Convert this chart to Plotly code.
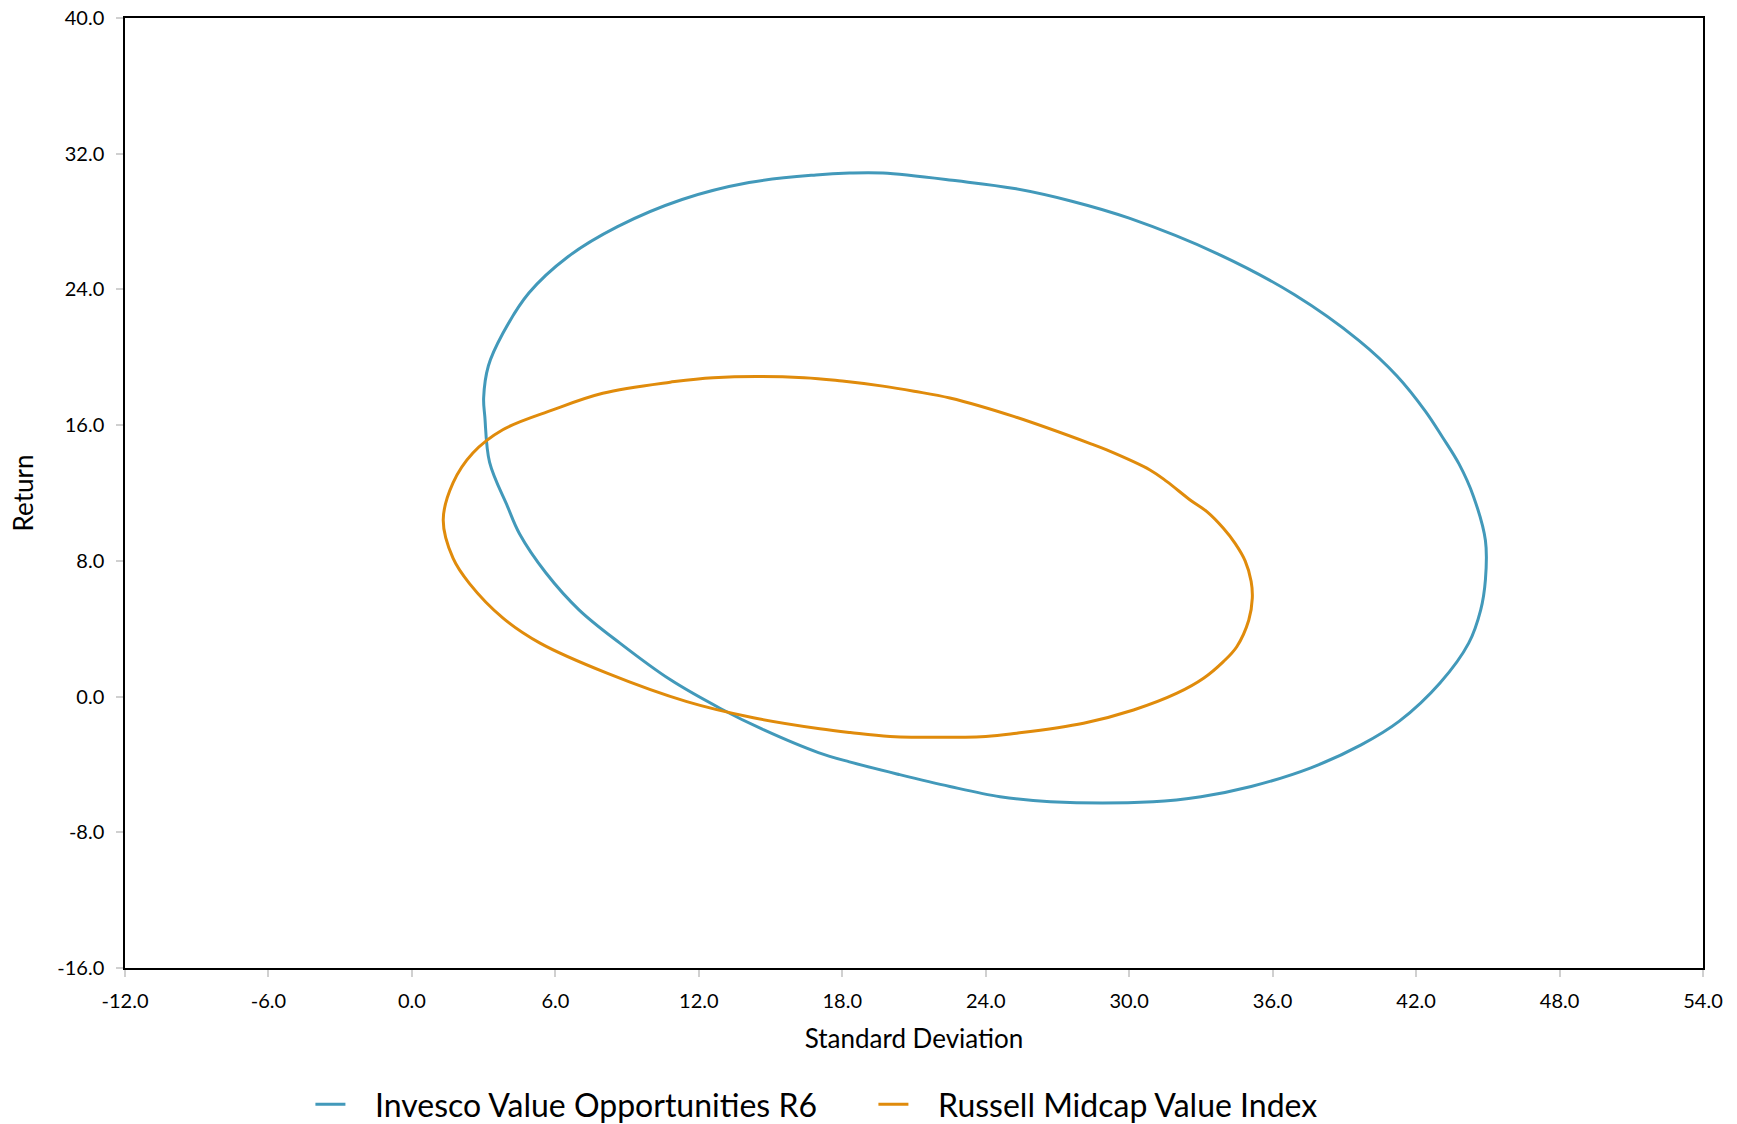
import plotly.graph_objects as go

# Invesco Value Opportunities R6 (standard deviation, return) contour points
fund_sd = [3.0, 3.2, 3.8, 4.9, 6.5, 8.6, 11.3, 14.1, 16.9, 18.3, 19.7, 22.8, 25.2,
           27.6, 30.0, 33.7, 36.9, 39.6, 41.2, 42.4, 43.1, 43.8, 44.4, 44.9, 44.9, 44.7,
           44.2, 43.0, 41.3, 39.7, 37.6, 35.1, 33.0, 31.0, 26.7, 24.6, 22.5, 20.4, 18.3,
           17.0, 14.7, 12.9, 10.8, 8.7, 7.0, 5.6, 4.5, 4.0, 3.25, 3.05, 3.0]
fund_ret = [17.6, 19.5, 21.4, 23.8, 25.9, 27.7, 29.3, 30.3, 30.75, 30.86, 30.86, 30.4, 29.95,
            29.2, 28.2, 26.1, 23.7, 21.0, 18.9, 16.8, 15.3, 13.7, 11.8, 9.2, 6.9, 5.1,
            3.15, 0.8, -1.45, -2.85, -4.2, -5.3, -5.9, -6.2, -6.2, -5.9, -5.3, -4.6, -3.85,
            -3.3, -1.95, -0.7, 1.0, 3.15, 5.1, 7.3, 9.6, 11.2, 13.8, 16.5, 17.6]

# Russell Midcap Value Index contour points
idx_sd = [12.6, 16.4, 18.0, 19.7, 21.0, 22.5, 25.2, 28.4, 29.06, 30.87, 31.58, 32.55, 33.25,
          33.94, 34.43, 34.85, 35.1, 35.15, 35.0, 34.5, 33.94, 33.11, 32.0, 30.18, 28.09,
          25.3, 24.0, 20.0, 18.33, 17.06, 14.28, 11.5, 8.16, 5.36, 3.8, 2.41, 1.72, 1.31,
          1.72, 2.55, 3.8, 5.89, 7.98, 10.8, 12.6]
idx_ret = [18.8, 18.8, 18.6, 18.3, 18.0, 17.6, 16.5, 14.9, 14.54, 13.36, 12.67, 11.59, 10.9,
           9.92, 9.03, 8.0, 6.8, 5.8, 4.5, 2.94, 2.06, 1.08, 0.2, -0.79, -1.57,
           -2.16, -2.35, -2.35, -2.12, -1.9, -1.25, -0.3, 1.38, 3.15, 4.64, 6.66, 8.16, 10.41,
           12.6, 14.36, 15.73, 16.9, 17.88, 18.53, 18.8]

series_names = ["Invesco Value Opportunities R6", "Russell Midcap Value Index"]
series_colors = ["#4299ba", "#e08b0b"]

x_ticks = [-12, -6, 0, 6, 12, 18, 24, 30, 36, 42, 48, 54]
x_tick_labels = ["-12.0", "-6.0", "0.0", "6.0", "12.0", "18.0", "24.0", "30.0",
                 "36.0", "42.0", "48.0", "54.0"]
y_ticks = [-16, -8, 0, 8, 16, 24, 32, 40]
y_tick_labels = ["-16.0", "-8.0", "0.0", "8.0", "16.0", "24.0", "32.0", "40.0"]

FONT = "Lato, 'Open Sans', sans-serif"
GAP = "\u00a0\u00a0\u00a0"  # visual gap between legend swatch and label

fig = go.Figure()
for xs, ys, name, col in [(fund_sd, fund_ret, series_names[0], series_colors[0]),
                          (idx_sd, idx_ret, series_names[1], series_colors[1])]:
    fig.add_trace(go.Scatter(x=xs, y=ys, mode="lines", name=GAP + name,
                             line=dict(color=col, width=3, shape="spline", smoothing=1.0)))

axis_common = dict(showgrid=False, zeroline=False, showline=True, linecolor="black",
                   linewidth=1.5, mirror=True, ticks="outside", tickcolor="#d0d0d0",
                   ticklen=7, tickwidth=1.5, ticklabeloverflow="allow",
                   tickfont=dict(family=FONT, size=20, color="black"))

fig.update_layout(
    width=1737, height=1124,
    paper_bgcolor="white", plot_bgcolor="white",
    margin=dict(l=125, r=34, t=18, b=156, autoexpand=False),
    font=dict(family=FONT, color="black"),
    xaxis=dict(range=[-12, 54], tickvals=x_ticks, ticktext=x_tick_labels, **axis_common,
               ticklabelstandoff=7,
               title=dict(text="Standard Deviation", font=dict(family=FONT, size=26), standoff=19)),
    yaxis=dict(range=[-16, 40], tickvals=y_ticks, ticktext=y_tick_labels, **axis_common,
               ticklabelstandoff=8,
               title=dict(text="Return", font=dict(family=FONT, size=26), standoff=16)),
    legend=dict(orientation="h", x=0.1175, xanchor="left", y=-0.1437, yanchor="middle",
                font=dict(family=FONT, size=32), itemwidth=30, entrywidth=518,
                entrywidthmode="pixels", tracegroupgap=0),
    showlegend=True,
)

fig.write_html("out.html", config={"displayModeBar": False},
               post_script="document.body.style.margin='0px';document.body.style.overflow='hidden';")
